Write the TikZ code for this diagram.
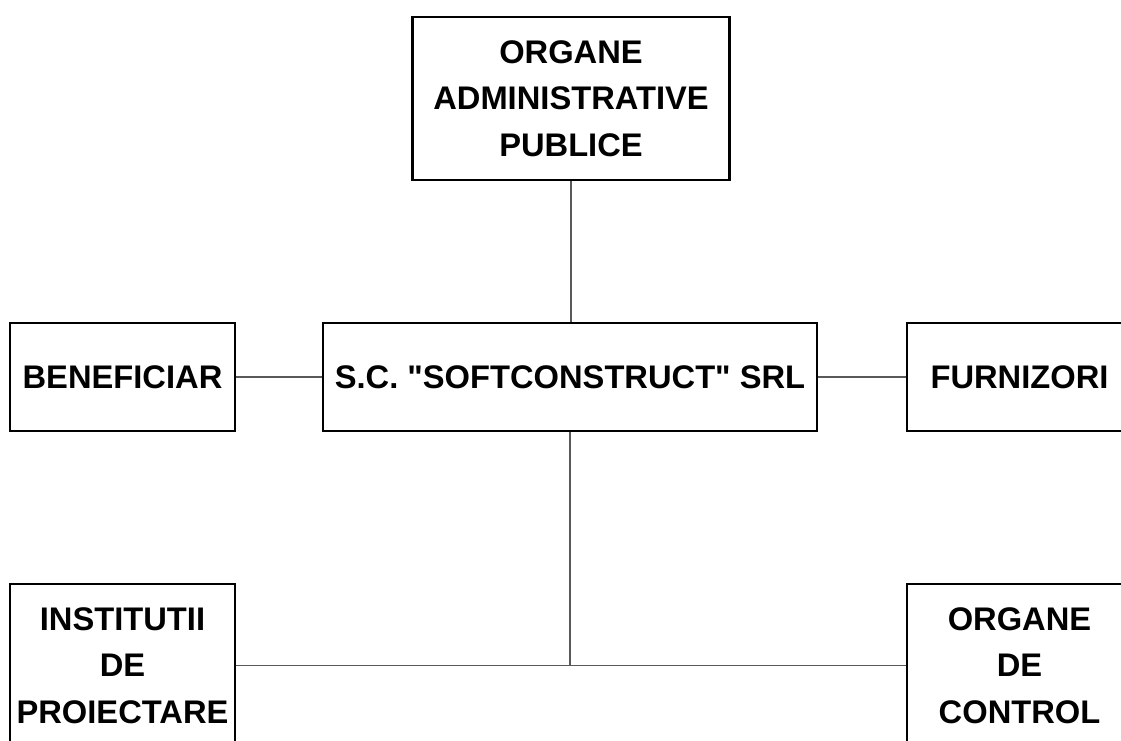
\documentclass[tikz,border=0pt]{standalone}
\usepackage{fontspec}
\setmainfont{Liberation Sans}
\begin{document}
\begin{tikzpicture}[x=0.02cm, y=-0.02cm,
  every node/.style={font=\bfseries\fontsize{18.6}{26.5}\selectfont},
  unit/.style={draw, line width=1.3pt, align=center, inner sep=0pt},
  link/.style={draw=black!65, line width=0.6pt}]
  \useasboundingbox (0,0) rectangle (1121,740);
  \clip (0,0) rectangle (1121,740);
  % top
  \node[unit, minimum width=6.34cm, minimum height=3.26cm] (admin) at (571,98.5) {ORGANE\\ADMINISTRATIVE\\PUBLICE};
  % middle row
  \node[unit, minimum width=9.88cm, minimum height=2.16cm] (firma) at (570,377) {S.C. \textquotedbl SOFTCONSTRUCT\textquotedbl\ SRL};
  \node[unit, minimum width=4.5cm, minimum height=2.16cm] (benef) at (122.5,377) {BENEFICIAR};
  \node[unit, minimum width=4.5cm, minimum height=2.16cm] (furn) at (1019.5,377) {FURNIZORI};
  % bottom row
  \node[unit, minimum width=4.5cm, minimum height=3.26cm] (inst) at (122.5,665.5) {INSTITUTII\\DE\\PROIECTARE};
  \node[unit, minimum width=4.5cm, minimum height=3.26cm] (ctrl) at (1019.5,665.5) {ORGANE\\DE\\CONTROL};
  % links
  \draw[link] (admin.south) -- (admin.south |- firma.north);
  \draw[link] (benef) -- (firma);
  \draw[link] (firma) -- (furn);
  \draw[link] (firma.south) -- (firma.south |- inst.east);
  \draw[link] (inst) -- (ctrl);
\end{tikzpicture}
\end{document}
